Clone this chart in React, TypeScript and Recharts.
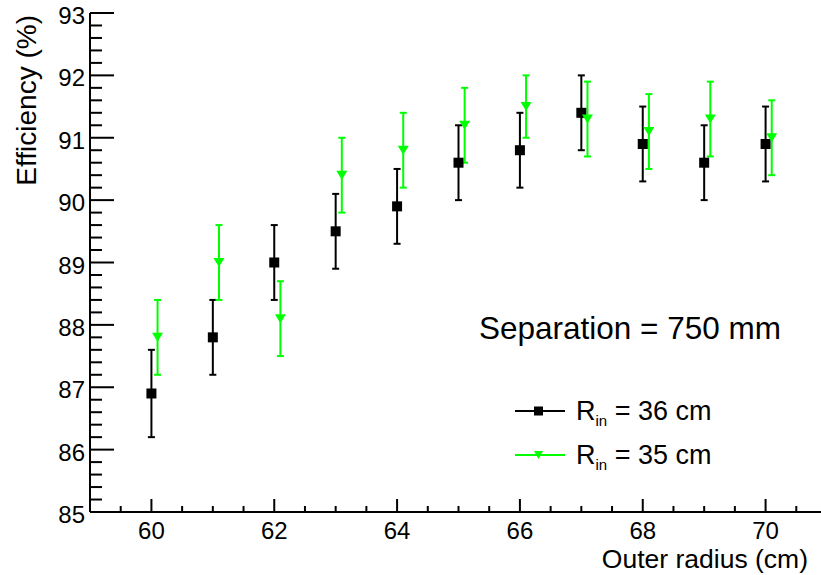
import { ScatterChart, Scatter, XAxis, YAxis, ErrorBar, Legend } from "recharts";

// outer radius (cm) vs efficiency (%), two inner radii
const OUTER_R_36 = [60, 61, 62, 63, 64, 65, 66, 67, 68, 69, 70];
const EFF_36 = [86.9, 87.8, 89.0, 89.5, 89.9, 90.6, 90.8, 91.4, 90.9, 90.6, 90.9];
const ERR_36 = [0.7, 0.6, 0.6, 0.6, 0.6, 0.6, 0.6, 0.6, 0.6, 0.6, 0.6];

// shifted by 0.1 cm in the original plot so the bars don't overlap
const OUTER_R_35 = [60.1, 61.1, 62.1, 63.1, 64.1, 65.1, 66.1, 67.1, 68.1, 69.1, 70.1];
const EFF_35 = [87.8, 89.0, 88.1, 90.4, 90.8, 91.2, 91.5, 91.3, 91.1, 91.3, 91.0];
const ERR_35 = [0.6, 0.6, 0.6, 0.6, 0.6, 0.6, 0.5, 0.6, 0.6, 0.6, 0.6];

const SERIES_RADII = ["36 cm", "35 cm"];

const X_DOMAIN: [number, number] = [59, 71];
const Y_DOMAIN: [number, number] = [85, 93];
const X_MAJOR = [60, 62, 64, 66, 68, 70];
const Y_MAJOR = [85, 86, 87, 88, 89, 90, 91, 92, 93];

const FONT = '"Liberation Sans", Arial, Helvetica, sans-serif';
const GREEN = "#00ff00";

function steps(from: number, to: number, step: number): number[] {
  const out: number[] = [];
  for (let v = from; v <= to + 1e-9; v += step) out.push(Math.round(v * 100) / 100);
  return out;
}

const X_TICKS = steps(59.5, 70.5, 0.5);
const Y_TICKS = steps(85, 93, 0.2);

const isMajor = (list: number[], v: number) => list.some((m) => Math.abs(m - v) < 1e-6);

const toPoints = (xs: number[], ys: number[], es: number[]) =>
  xs.map((x, i) => ({ x, y: ys[i], err: es[i] }));

const data36 = toPoints(OUTER_R_36, EFF_36, ERR_36);
const data35 = toPoints(OUTER_R_35, EFF_35, ERR_35);

function XTick(props: any) {
  const { x, y, payload } = props;
  const major = isMajor(X_MAJOR, payload.value);
  return (
    <g>
      <line x1={x} x2={x} y1={y} y2={y - (major ? 13 : 6)} stroke="#000" strokeWidth={2} />
      {major && (
        <text x={x} y={y + 27} textAnchor="middle" fontSize={24} fontFamily={FONT} fill="#000">
          {payload.value}
        </text>
      )}
    </g>
  );
}

function YTick(props: any) {
  const { x, y, payload } = props;
  const major = isMajor(Y_MAJOR, payload.value);
  return (
    <g>
      <line x1={x} x2={x + (major ? 24 : 12)} y1={y} y2={y} stroke="#000" strokeWidth={2} />
      {major && (
        <text x={x - 5} y={y + 11} textAnchor="end" fontSize={24} fontFamily={FONT} fill="#000">
          {payload.value}
        </text>
      )}
    </g>
  );
}

const SquareMarker = (p: any) => (
  <rect x={p.cx - 5} y={p.cy - 5} width={10} height={10} fill="#000" />
);

const TriangleDown = (p: any) => (
  <polygon
    points={`${p.cx - 5.5},${p.cy - 4.5} ${p.cx + 5.5},${p.cy - 4.5} ${p.cx},${p.cy + 4.5}`}
    fill={GREEN}
  />
);

function LegendBox({ payload }: any) {
  const rows = payload ?? [];
  return (
    <svg width={240} height={95} style={{ display: "block" }}>
      {rows.map((entry: any, i: number) => {
        const base = 35 + 44 * i;
        const ly = base - 9;
        const color = i === 0 ? "#000" : GREEN;
        return (
          <g key={i}>
            <line x1={10} x2={60} y1={ly} y2={ly} stroke={color} strokeWidth={2} />
            {i === 0 ? (
              <rect x={29} y={ly - 4.5} width={9} height={9} fill="#000" />
            ) : (
              <polygon points={`${29},${ly - 4} ${38},${ly - 4} ${33.5},${ly + 4}`} fill={GREEN} />
            )}
            <text x={71} y={base} fontSize={27} fontFamily={FONT} fill="#000">
              R
              <tspan fontSize={15} dy={6}>in</tspan>
              <tspan dy={-6}>{` = ${SERIES_RADII[i]}`}</tspan>
            </text>
          </g>
        );
      })}
    </svg>
  );
}

export default function App() {
  return (
    <div
      style={{
        position: "absolute",
        left: 0,
        top: 0,
        width: 821,
        height: 575,
        overflow: "hidden",
        background: "#fff",
      }}
    >
      <ScatterChart width={827} height={575} margin={{ top: 13, right: 0, bottom: 0, left: 0 }}>
        <XAxis
          dataKey="x"
          type="number"
          domain={X_DOMAIN}
          allowDataOverflow
          ticks={X_TICKS}
          interval={0}
          tick={<XTick />}
          tickLine={false}
          tickSize={0}
          tickMargin={0}
          height={63}
          axisLine={{ stroke: "#000", strokeWidth: 2 }}
        />
        <XAxis
          xAxisId="top"
          orientation="top"
          type="number"
          domain={X_DOMAIN}
          allowDataOverflow
          tick={false}
          tickLine={false}
          height={0}
          axisLine={{ stroke: "#000", strokeWidth: 2 }}
        />
        <YAxis
          dataKey="y"
          type="number"
          domain={Y_DOMAIN}
          allowDataOverflow
          ticks={Y_TICKS}
          interval={0}
          tick={<YTick />}
          tickLine={false}
          tickSize={0}
          tickMargin={0}
          width={90}
          axisLine={{ stroke: "#000", strokeWidth: 2 }}
        />
        <Legend
          layout="horizontal"
          align="center"
          verticalAlign="middle"
          content={<LegendBox />}
          wrapperStyle={{ position: "absolute", left: 505, top: 385, width: 240, height: 95 }}
        />
        <Scatter
          name={`R_in = ${SERIES_RADII[0]}`}
          data={data36}
          fill="#000"
          shape={SquareMarker}
          isAnimationActive={false}
        >
          <ErrorBar dataKey="err" direction="y" width={3.5} stroke="#000" strokeWidth={2} />
        </Scatter>
        <Scatter
          name={`R_in = ${SERIES_RADII[1]}`}
          data={data35}
          fill={GREEN}
          shape={TriangleDown}
          isAnimationActive={false}
        >
          <ErrorBar dataKey="err" direction="y" width={3.5} stroke={GREEN} strokeWidth={2} />
        </Scatter>
      </ScatterChart>
      <svg
        width={821}
        height={575}
        style={{ position: "absolute", left: 0, top: 0, pointerEvents: "none" }}
      >
        <text x={479} y={339} fontSize={31.5} fontFamily={FONT} fill="#000">
          Separation = 750 mm
        </text>
        <text x={808} y={568} textAnchor="end" fontSize={26.5} fontFamily={FONT} fill="#000">
          Outer radius (cm)
        </text>
        <text
          transform="translate(36,15) rotate(-90)"
          textAnchor="end"
          fontSize={28}
          fontFamily={FONT}
          fill="#000"
        >
          Efficiency (%)
        </text>
      </svg>
    </div>
  );
}
